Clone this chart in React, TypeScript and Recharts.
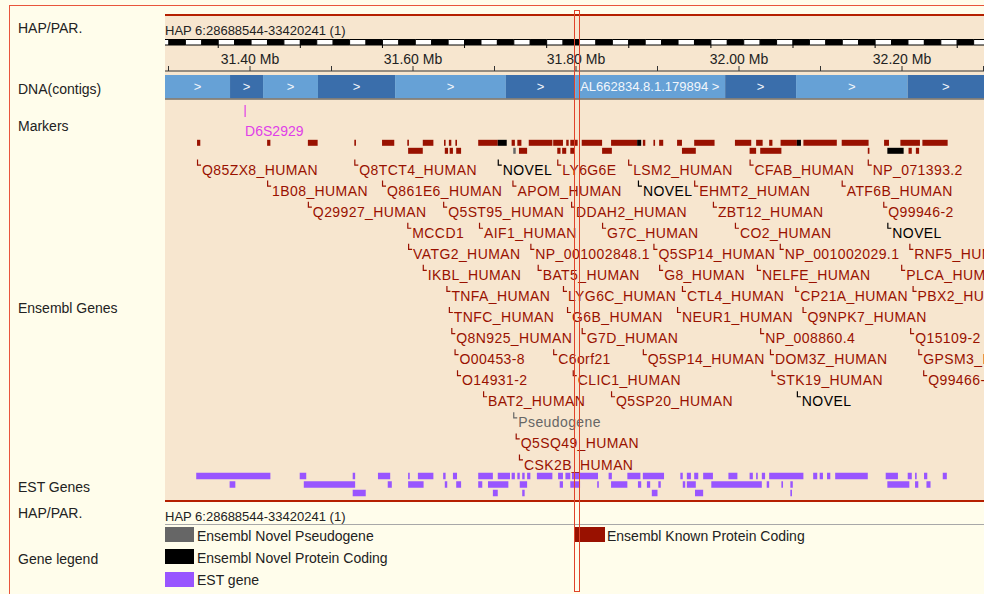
import React from "react";
import {
  ComposedChart,
  ScatterChart,
  Scatter,
  XAxis,
  YAxis,
  ReferenceArea,
  ReferenceLine,
} from "recharts";

// region shown, in Mb
const X_DOMAIN: [number, number] = [31.2957, 32.3006];
const AXIS_TICKS = [31.3, 31.4, 31.5, 31.6, 31.7, 31.8, 31.9, 32.0, 32.1, 32.2, 32.3];
const RULER_START = 31.361;
const RULER_STEP = 0.10075;

const CONTIG_EDGES = [31.2957, 31.3755, 31.416, 31.4834, 31.578, 31.714, 31.799, 31.983, 32.07, 32.207, 32.3006];
const CONTIG_NAMES = ["", "", "", "", "", "", "AL662834.8.1.179894", "", "", ""];

const MARKERS: [string, number][] = [["D6S2929", 31.394]];

// gene exon blocks: [start, end, kind]  k = known, n = novel, p = pseudogene
const GENE_LANE_1: [number, number, string][] = [
  [31.335, 31.339, "k"], [31.421, 31.425, "k"], [31.471, 31.483, "k"], [31.528, 31.53, "k"],
  [31.562, 31.577, "k"], [31.593, 31.595, "k"], [31.612, 31.625, "k"], [31.638, 31.64, "k"],
  [31.644, 31.647, "k"], [31.652, 31.654, "k"], [31.68, 31.704, "k"], [31.704, 31.715, "n"],
  [31.721, 31.725, "k"], [31.728, 31.733, "k"], [31.742, 31.771, "k"], [31.772, 31.784, "k"],
  [31.788, 31.791, "k"], [31.793, 31.802, "k"], [31.807, 31.832, "k"], [31.843, 31.875, "k"],
  [31.875, 31.88, "n"], [31.882, 31.885, "k"], [31.895, 31.897, "k"], [31.902, 31.907, "k"],
  [31.924, 31.93, "k"], [31.945, 31.97, "k"], [31.995, 32.015, "k"], [32.021, 32.029, "k"],
  [32.037, 32.041, "k"], [32.051, 32.071, "k"], [32.071, 32.076, "n"], [32.079, 32.12, "k"],
  [32.126, 32.159, "k"], [32.178, 32.184, "k"], [32.198, 32.222, "k"], [32.225, 32.256, "k"],
];
const GENE_LANE_2: [number, number, string][] = [
  [31.594, 31.612, "k"], [31.639, 31.643, "k"], [31.645, 31.649, "k"], [31.653, 31.659, "k"],
  [31.723, 31.726, "p"], [31.73, 31.74, "k"], [31.777, 31.781, "k"], [31.783, 31.788, "k"],
  [31.793, 31.798, "k"], [31.832, 31.844, "k"], [31.93, 31.947, "k"], [32.013, 32.021, "k"],
  [32.026, 32.052, "k"], [32.158, 32.16, "k"], [32.182, 32.202, "n"], [32.208, 32.212, "k"],
  [32.217, 32.221, "k"],
];

// gene labels per row: [name, start Mb]
const ROW_1: [string, number][] = [["Q85ZX8_HUMAN", 31.335], ["Q8TCT4_HUMAN", 31.528], ["NOVEL", 31.704], ["LY6G6E", 31.777], ["LSM2_HUMAN", 31.864], ["CFAB_HUMAN", 32.013], ["NP_071393.2", 32.158]];
const ROW_2: [string, number][] = [["1B08_HUMAN", 31.421], ["Q861E6_HUMAN", 31.562], ["APOM_HUMAN", 31.722], ["NOVEL", 31.876], ["EHMT2_HUMAN", 31.945], ["ATF6B_HUMAN", 32.126]];
const ROW_3: [string, number][] = [["Q29927_HUMAN", 31.471], ["Q5ST95_HUMAN", 31.637], ["DDAH2_HUMAN", 31.794], ["ZBT12_HUMAN", 31.968], ["Q99946-2", 32.177]];
const ROW_4: [string, number][] = [["MCCD1", 31.593], ["AIF1_HUMAN", 31.681], ["G7C_HUMAN", 31.832], ["CO2_HUMAN", 31.995], ["NOVEL", 32.182]];
const ROW_5: [string, number][] = [["VATG2_HUMAN", 31.594], ["NP_001002848.1", 31.744], ["Q5SP14_HUMAN", 31.895], ["NP_001002029.1", 32.05], ["RNF5_HUMAN", 32.209]];
const ROW_6: [string, number][] = [["IKBL_HUMAN", 31.612], ["BAT5_HUMAN", 31.753], ["G8_HUMAN", 31.902], ["NELFE_HUMAN", 32.022], ["PLCA_HUMAN", 32.199]];
const ROW_7: [string, number][] = [["TNFA_HUMAN", 31.641], ["LYG6C_HUMAN", 31.784], ["CTL4_HUMAN", 31.93], ["CP21A_HUMAN", 32.069], ["PBX2_HUMAN", 32.213]];
const ROW_8: [string, number][] = [["TNFC_HUMAN", 31.644], ["G6B_HUMAN", 31.789], ["NEUR1_HUMAN", 31.924], ["Q9NPK7_HUMAN", 32.078]];
const ROW_9: [string, number][] = [["Q8N925_HUMAN", 31.647], ["G7D_HUMAN", 31.807], ["NP_008860.4", 32.026], ["Q15109-2", 32.21]];
const ROW_10: [string, number][] = [["O00453-8", 31.651], ["C6orf21", 31.772], ["Q5SP14_HUMAN", 31.882], ["DOM3Z_HUMAN", 32.038], ["GPSM3_HUMAN", 32.22]];
const ROW_11: [string, number][] = [["O14931-2", 31.654], ["CLIC1_HUMAN", 31.796], ["STK19_HUMAN", 32.04], ["Q99466-2", 32.226]];
const ROW_12: [string, number][] = [["BAT2_HUMAN", 31.686], ["Q5SP20_HUMAN", 31.843], ["NOVEL", 32.071]];
const ROW_13: [string, number][] = [["Pseudogene", 31.723]];
const ROW_14: [string, number][] = [["Q5SQ49_HUMAN", 31.726]];
const ROW_15: [string, number][] = [["CSK2B_HUMAN", 31.73]];
const LABEL_ROWS = [ROW_1, ROW_2, ROW_3, ROW_4, ROW_5, ROW_6, ROW_7, ROW_8, ROW_9, ROW_10, ROW_11, ROW_12, ROW_13, ROW_14, ROW_15];

// EST blocks: [start, end]
const EST_LANE_1: [number, number][] = [
  [31.334, 31.425], [31.461, 31.469], [31.526, 31.529], [31.557, 31.572], [31.594, 31.596],
  [31.606, 31.625], [31.637, 31.64], [31.649, 31.654], [31.68, 31.698], [31.704, 31.719],
  [31.721, 31.725], [31.728, 31.731], [31.734, 31.737], [31.74, 31.744], [31.752, 31.771],
  [31.778, 31.784], [31.787, 31.793], [31.795, 31.827], [31.84, 31.844], [31.863, 31.879],
  [31.882, 31.908], [31.928, 31.931], [31.936, 31.941], [31.945, 31.95], [31.956, 31.968],
  [31.987, 31.998], [32.013, 32.017], [32.021, 32.023], [32.028, 32.032], [32.037, 32.079],
  [32.091, 32.096], [32.099, 32.103], [32.108, 32.112], [32.118, 32.158], [32.18, 32.195],
  [32.207, 32.212], [32.216, 32.218], [32.227, 32.231], [32.25, 32.255],
];
const EST_LANE_2: [number, number][] = [
  [31.375, 31.382], [31.466, 31.529], [31.569, 31.574], [31.594, 31.613], [31.639, 31.642],
  [31.653, 31.659], [31.68, 31.685], [31.692, 31.717], [31.731, 31.74], [31.78, 31.784],
  [31.793, 31.805], [31.826, 31.828], [31.843, 31.863], [31.876, 31.88], [31.887, 31.891],
  [31.901, 31.904], [31.931, 31.934], [31.936, 31.947], [31.966, 32.028], [32.034, 32.037],
  [32.052, 32.054], [32.063, 32.066], [32.182, 32.209], [32.216, 32.22], [32.23, 32.235],
];
const EST_LANE_3: [number, number][] = [
  [31.526, 31.542], [31.698, 31.704], [31.734, 31.737], [31.893, 31.9], [31.946, 31.956], [32.063, 32.065],
];

const LEGEND_LEFT = [
  ["Ensembl Novel Pseudogene", "#666666"],
  ["Ensembl Novel Protein Coding", "#000000"],
  ["EST gene", "#9955ff"],
];
const LEGEND_RIGHT = [["Ensembl Known Protein Coding", "#991100"]];

const KIND_COLOR: Record<string, string> = { k: "#991100", n: "#000000", p: "#666666" };
const EST_COLOR = "#9955ff";
const CREAM = "#fffdeb";
const BEIGE = "#f7e6cf";
const FONT = "'Liberation Sans', Arial, sans-serif";
const PANEL_LEFT = 165;
const PANEL_WIDTH = 819;
const NO_MARGIN = { top: 0, right: 0, bottom: 0, left: 0 };

const box = (top: number, height: number): React.CSSProperties => ({
  position: "absolute",
  left: PANEL_LEFT,
  top,
  width: PANEL_WIDTH,
  height,
});

const axisLabel = (v: number) => (Math.round(v * 10) % 2 === 0 ? `${v.toFixed(2)} Mb` : "");

function labelKind(name: string) {
  if (name === "NOVEL") return "n";
  if (name === "Pseudogene") return "p";
  return "k";
}

function GeneTag(props: any) {
  const { cx, cy, payload } = props;
  const color = KIND_COLOR[payload.kind];
  return (
    <g>
      <path d={`M${cx + 0.5},${cy - 10}V${cy - 4.5}H${cx + 4}`} stroke={color} fill="none" strokeWidth={1.2} />
      <text x={cx + 5} y={cy} dy="0.36em" fontSize={14} fill={color} fontFamily={FONT} letterSpacing={0.4}>
        {payload.name}
      </text>
    </g>
  );
}

function MarkerTag(props: any) {
  const { cx, cy, payload } = props;
  return (
    <g>
      <line x1={cx} x2={cx} y1={cy + 5} y2={cy + 17} stroke="#e040e8" strokeWidth={1.2} />
      <text x={cx} y={cy + 31} dy="0.36em" fontSize={14} fill="#e040e8" fontFamily={FONT}>
        {payload.name}
      </text>
    </g>
  );
}

function BlockTrack({ top, height, lanes, rows }: { top: number; height: number; lanes: number; rows: [number, number, string][][] }) {
  return (
    <div style={box(top, height)}>
      <ComposedChart width={PANEL_WIDTH} height={height} margin={NO_MARGIN} data={rows[0].map((b) => ({ x: b[0] }))}>
        <XAxis type="number" dataKey="x" domain={X_DOMAIN} allowDataOverflow hide />
        <YAxis type="number" domain={[0, lanes]} allowDataOverflow reversed hide />
        {rows.map((lane, li) =>
          lane.map((b, i) => (
            <ReferenceArea
              key={`${li}-${i}`}
              x1={b[0]}
              x2={b[1]}
              y1={li + 0.1}
              y2={li + 0.85}
              fill={b[2] in KIND_COLOR ? KIND_COLOR[b[2]] : EST_COLOR}
              fillOpacity={1}
              stroke="none"
              ifOverflow="hidden"
            />
          ))
        )}
      </ComposedChart>
    </div>
  );
}

const textAt = (x: number, cy: number, size = 14): React.CSSProperties => ({
  position: "absolute",
  left: x,
  top: cy - 9,
  lineHeight: "18px",
  fontSize: size,
  color: "#222",
  whiteSpace: "nowrap",
});

export default function App() {
  const labelData = LABEL_ROWS.flatMap((row, r) =>
    row.map(([name, x]) => ({ name, x, y: r + 0.5, kind: labelKind(name) }))
  );
  const stripes = Array.from({ length: 60 }, (_, i) => i - 6).map((k) => ({
    x1: RULER_START + (k * RULER_STEP) / 5,
    x2: RULER_START + ((k + 1) * RULER_STEP) / 5,
    black: Math.abs(k) % 2 === 1,
  }));
  const rulerTicks = Array.from({ length: 10 }, (_, i) => RULER_START + i * RULER_STEP);
  const tag = (kind: string) => (b: [number, number]) => [b[0], b[1], kind] as [number, number, string];

  return (
    <div style={{ position: "relative", width: 984, height: 594, overflow: "hidden", background: CREAM, fontFamily: FONT }}>
      <style>{"body{margin:0}"}</style>
      <div style={{ position: "absolute", left: 9, top: 5, width: 1200, height: 1000, border: "1.5px solid #e8553c" }} />

      {/* track panel */}
      <div style={{ position: "absolute", left: PANEL_LEFT, top: 14, width: PANEL_WIDTH, height: 484, background: BEIGE, borderTop: "2px solid #b52000", borderBottom: "2.5px solid #b52000" }} />
      <div style={{ position: "absolute", left: PANEL_LEFT, top: 524, width: PANEL_WIDTH, height: 1, background: "#a8a8a8" }} />

      {/* left labels */}
      <div style={textAt(18, 28)}>HAP/PAR.</div>
      <div style={textAt(18, 89)}>DNA(contigs)</div>
      <div style={textAt(18, 126)}>Markers</div>
      <div style={textAt(18, 308)}>Ensembl Genes</div>
      <div style={textAt(18, 487)}>EST Genes</div>
      <div style={textAt(18, 513)}>HAP/PAR.</div>
      <div style={textAt(18, 559)}>Gene legend</div>
      <div style={textAt(165, 31, 13)}>HAP 6:28688544-33420241 (1)</div>
      <div style={textAt(165, 517, 13)}>HAP 6:28688544-33420241 (1)</div>

      {/* ruler */}
      <div style={box(39, 10)}>
        <ComposedChart width={PANEL_WIDTH} height={10} margin={NO_MARGIN} data={rulerTicks.map((x) => ({ x }))}>
          <XAxis type="number" dataKey="x" domain={X_DOMAIN} allowDataOverflow hide />
          <YAxis type="number" domain={[0, 1]} allowDataOverflow reversed hide />
          {stripes.map((s, i) => (
            <ReferenceArea key={i} x1={s.x1} x2={s.x2} y1={0.05} y2={0.6} fill={s.black ? "#000" : "#fff"} fillOpacity={1} stroke="#000" strokeWidth={1} ifOverflow="hidden" />
          ))}
          {rulerTicks.map((x, i) => (
            <ReferenceLine key={i} segment={[{ x, y: 0.6 }, { x, y: 0.9 }]} stroke="#000" ifOverflow="hidden" />
          ))}
        </ComposedChart>
      </div>

      {/* contigs with scale */}
      <div style={box(36, 71)}>
        <ComposedChart width={PANEL_WIDTH} height={71} margin={NO_MARGIN} data={CONTIG_EDGES.map((x) => ({ x }))}>
          <XAxis xAxisId="t" orientation="top" type="number" dataKey="x" domain={X_DOMAIN} allowDataOverflow ticks={AXIS_TICKS} interval={0} tickFormatter={axisLabel} height={35} tickSize={5} tickMargin={2} stroke="#333" tick={{ fill: "#222", fontSize: 14, fontFamily: FONT }} />
          <XAxis xAxisId="b" orientation="bottom" type="number" dataKey="x" domain={X_DOMAIN} allowDataOverflow ticks={AXIS_TICKS} interval={0} tick={false} height={8} tickSize={5} stroke="#333" />
          <YAxis type="number" domain={[0, 1]} allowDataOverflow reversed hide />
          {CONTIG_NAMES.map((name, i) => (
            <ReferenceArea
              key={i}
              xAxisId="t"
              x1={CONTIG_EDGES[i]}
              x2={CONTIG_EDGES[i + 1]}
              y1={0.14}
              y2={0.97}
              fill={i % 2 === 0 ? "#66a1d6" : "#3a6eab"}
              fillOpacity={1}
              stroke="none"
              ifOverflow="hidden"
              label={
                name
                  ? { value: `${name} >`, position: "insideLeft", offset: 5, fill: "#f2f6fb", fontSize: 13, fontFamily: FONT }
                  : { value: ">", position: "center", fill: "#f2f6fb", fontSize: 13, fontFamily: FONT }
              }
            />
          ))}
        </ComposedChart>
      </div>

      {/* markers */}
      <div style={box(100, 42)}>
        <ScatterChart width={PANEL_WIDTH} height={42} margin={NO_MARGIN}>
          <XAxis type="number" dataKey="x" domain={X_DOMAIN} allowDataOverflow hide />
          <YAxis type="number" dataKey="y" domain={[0, 1]} allowDataOverflow reversed hide />
          <Scatter data={MARKERS.map(([name, x]) => ({ name, x, y: 0 }))} shape={(p: any) => <MarkerTag {...p} />} isAnimationActive={false} />
        </ScatterChart>
      </div>

      <BlockTrack top={139} height={16} lanes={2} rows={[GENE_LANE_1, GENE_LANE_2]} />

      {/* gene labels */}
      <div style={box(158.5, 316)}>
        <ScatterChart width={PANEL_WIDTH} height={316} margin={NO_MARGIN}>
          <XAxis type="number" dataKey="x" domain={X_DOMAIN} allowDataOverflow hide />
          <YAxis type="number" dataKey="y" domain={[0, 15]} allowDataOverflow reversed hide />
          <Scatter data={labelData} shape={(p: any) => <GeneTag {...p} />} isAnimationActive={false} />
        </ScatterChart>
      </div>

      <BlockTrack top={472} height={25.5} lanes={3} rows={[EST_LANE_1.map(tag("e")), EST_LANE_2.map(tag("e")), EST_LANE_3.map(tag("e"))]} />

      {/* legend */}
      {LEGEND_LEFT.map(([name, color], i) => (
        <React.Fragment key={name}>
          <div style={{ position: "absolute", left: 165, top: 527 + i * 22.3, width: 29, height: 15, background: color }} />
          <div style={textAt(197, 536 + i * 22)}>{name}</div>
        </React.Fragment>
      ))}
      {LEGEND_RIGHT.map(([name, color]) => (
        <React.Fragment key={name}>
          <div style={{ position: "absolute", left: 575, top: 527, width: 30, height: 15, background: color }} />
          <div style={textAt(607, 536)}>{name}</div>
        </React.Fragment>
      ))}

      {/* highlighted window */}
      <div style={{ position: "absolute", left: 574, top: 10, width: 6, height: 582, border: "1.5px solid #e0432a", boxSizing: "border-box" }} />
    </div>
  );
}
